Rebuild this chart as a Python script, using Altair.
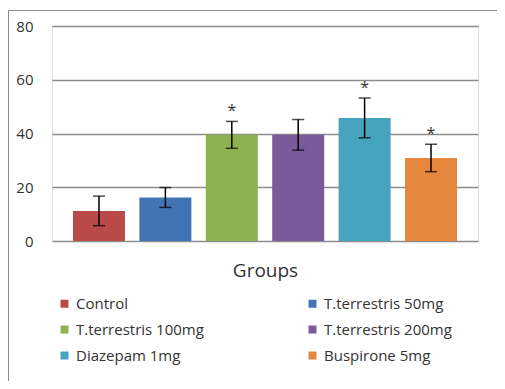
import altair as alt
import pandas as pd

groups = ["Control", "T.terrestris 50mg", "T.terrestris 100mg",
          "T.terrestris 200mg", "Diazepam 1mg", "Buspirone 5mg"]
means = [11.2, 16.2, 39.5, 39.5, 45.8, 30.9]
errors = [5.5, 3.7, 5.0, 5.7, 7.4, 5.1]
marks = ["", "", "*", "", "*", "*"]
colors = ["#BA4A47", "#4274B5", "#8EB14F", "#7A5A9B", "#46A3BE", "#E5873C"]

df = pd.DataFrame({"group": groups, "mean": means, "err": errors, "sig": marks})
df["lo"] = df["mean"] - df["err"]
df["hi"] = df["mean"] + df["err"]

FONT = "Open Sans"

x_enc = alt.X("group:N", sort=groups,
              scale=alt.Scale(paddingInner=0.217, paddingOuter=0.316),
              axis=alt.Axis(title="Groups", labels=False, ticks=False, domain=False,
                            titleFont=FONT, titleFontSize=19, titleFontWeight="normal",
                            titleColor="#333333", titlePadding=20))
y_scale = alt.Scale(domain=[0, 80], nice=False)

base = alt.Chart(df)

bars = base.mark_bar().encode(
    x=x_enc,
    y=alt.Y("mean:Q", scale=y_scale,
            axis=alt.Axis(title=None, values=[0, 20, 40, 60, 80], ticks=False, domain=False,
                          grid=True, gridColor="#8C8C8C", gridWidth=1.3,
                          labelFont=FONT, labelFontSize=15, labelColor="#333333",
                          labelPadding=19)),
    color=alt.Color("group:N", sort=groups,
                    scale=alt.Scale(domain=groups, range=colors),
                    legend=alt.Legend(title=None, orient="none", legendX=5, legendY=270,
                                      direction="horizontal",
                                      columns=2, columnPadding=101, rowPadding=10,
                                      symbolType="square", symbolSize=64, symbolStrokeWidth=0,
                                      labelFont=FONT, labelFontSize=15, labelColor="#333333",
                                      labelOffset=4, labelLimit=300)),
)

rules = base.mark_rule(color="black", strokeWidth=1.5).encode(
    x=alt.X("group:N", sort=groups),
    y=alt.Y("lo:Q", scale=y_scale),
    y2="hi:Q",
)
caps_hi = base.mark_tick(color="black", thickness=1.5, size=12).encode(
    x=alt.X("group:N", sort=groups),
    y=alt.Y("hi:Q", scale=y_scale),
)
caps_lo = base.mark_tick(color="black", thickness=1.5, size=12).encode(
    x=alt.X("group:N", sort=groups),
    y=alt.Y("lo:Q", scale=y_scale),
)
stars = base.mark_text(font=FONT, fontSize=16, color="#333333", baseline="bottom", dy=-2).encode(
    x=alt.X("group:N", sort=groups),
    y=alt.Y("hi:Q", scale=y_scale),
    text="sig:N",
)

one = pd.DataFrame({"k": [0]})
frame_top = alt.Chart(one).mark_rule(color="#8A8A8A", strokeWidth=1).encode(
    x=alt.value(-43.5), x2=alt.value(460), y=alt.value(-15.5))
frame_left = alt.Chart(one).mark_rule(color="#8A8A8A", strokeWidth=1).encode(
    x=alt.value(-43.5), y=alt.value(-15.5), y2=alt.value(400))

chart = alt.layer(frame_top, frame_left, bars, rules, caps_hi, caps_lo, stars).properties(
    width=426, height=215,
    padding={"left": 44, "top": 18, "right": 19, "bottom": 140},
    autosize=alt.AutoSizeParams(type="none"),
).configure_view(stroke=None).configure(background="white")

chart.save("out.html", embed_options={"renderer": "svg", "actions": False})
